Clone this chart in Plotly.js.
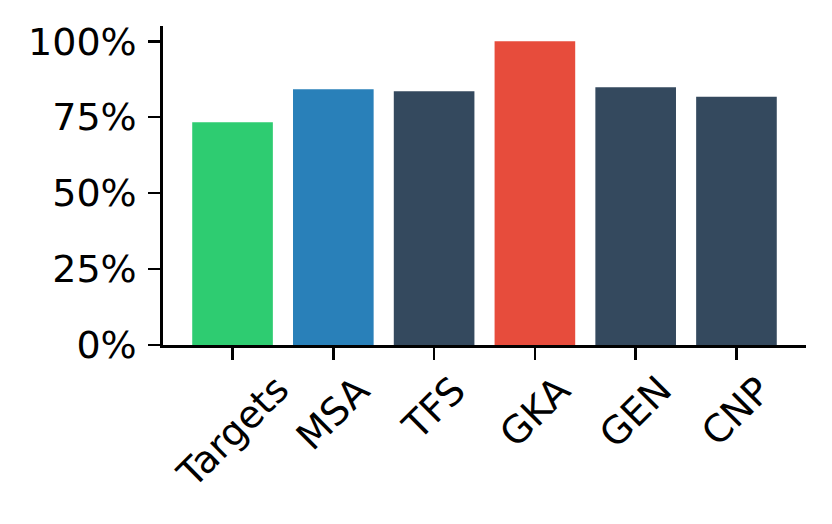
<!DOCTYPE html>
<html>
<head>
<meta charset="utf-8">
<script src="https://cdn.plot.ly/plotly-3.0.1.min.js"></script>
<style>html,body{margin:0;padding:0;background:#fff;}#chart{width:832px;height:524px;}</style>
</head>
<body>
<div id="chart"></div>
<script>
const categories = ["Targets", "MSA", "TFS", "GKA", "GEN", "CNP"];
const values = [0.733, 0.842, 0.835, 1.0, 0.848, 0.817];
const barColors = ["#2ecc71", "#2980b9", "#34495e", "#e74c3c", "#34495e", "#34495e"];
const yTickVals = [0, 0.25, 0.5, 0.75, 1.0];
const yTickText = ["0%", "25%", "50%", "75%", "100%"];

const font = {family: "DejaVu Sans", size: 38, color: "#000"};

const annotations = categories.map((c, i) => ({
  x: i, xref: "x", y: 0, yref: "paper",
  text: c, textangle: -45, showarrow: false,
  xanchor: "center", yanchor: "top", yshift: -20,
  font: font
}));

Plotly.newPlot("chart", [{
  type: "bar",
  x: categories.map((c, i) => i),
  y: values,
  width: 0.8,
  marker: {color: barColors, line: {width: 0}},
  hoverinfo: "skip"
}], {
  width: 832, height: 524,
  margin: {l: 163, r: 26, t: 26, b: 179, pad: 0},
  paper_bgcolor: "#fff", plot_bgcolor: "#fff",
  showlegend: false,
  font: font,
  xaxis: {
    range: [-0.69, 5.69], tickvals: [0, 1, 2, 3, 4, 5], showticklabels: false,
    ticks: "outside", ticklen: 12, tickwidth: 2.7, tickcolor: "#000",
    showline: true, linecolor: "#000", linewidth: 2.7,
    showgrid: false, zeroline: false, fixedrange: true
  },
  yaxis: {
    range: [0, 1.05], tickvals: yTickVals, ticktext: yTickText,
    ticks: "outside", ticklen: 12, tickwidth: 2.7, tickcolor: "#000",
    showline: true, linecolor: "#000", linewidth: 2.7,
    showgrid: false, zeroline: false, tickfont: font, ticklabelstandoff: 4
  },
  annotations: annotations
}, {displayModeBar: false, staticPlot: true});
</script>
</body>
</html>
